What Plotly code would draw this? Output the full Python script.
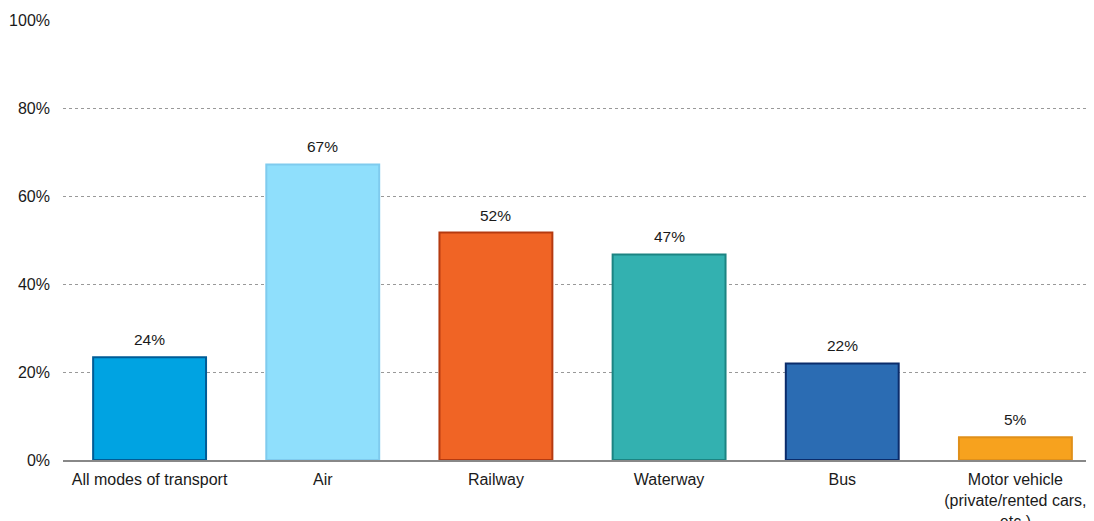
import plotly.graph_objects as go

categories = ["All modes of transport", "Air", "Railway", "Waterway", "Bus",
              "Motor vehicle<br>(private/rented cars,<br>etc.)"]
values = [23.4, 67.3, 51.8, 46.8, 22.0, 5.2]
labels = ["24%", "67%", "52%", "47%", "22%", "5%"]
fill_colors = ["#00A3E2", "#8FDFFC", "#F06425", "#33B1B0", "#2B6CB3", "#F7A21E"]
line_colors = ["#005C96", "#7FCBEE", "#B53A10", "#1C8482", "#0B2C6B", "#E0901A"]
yticks = [0, 20, 40, 60, 80, 100]
yticklabels = ["0%", "20%", "40%", "60%", "80%", "100%"]

fig = go.Figure(go.Bar(
    x=categories, y=values,
    marker=dict(color=fill_colors, line=dict(color=line_colors, width=2)),
    width=0.652, cliponaxis=False,
))
for c, v, t in zip(categories, values, labels):
    fig.add_annotation(x=c, y=v, text=t, showarrow=False, yanchor="bottom",
                       yshift=7, font=dict(family="Liberation Sans, Arial",
                                           size=15.5, color="#1a1a1a"))
fig.update_layout(
    width=1094, height=521,
    margin=dict(l=55, r=0, t=12, b=69, autoexpand=False),
    plot_bgcolor="white", paper_bgcolor="white",
    font=dict(family="Liberation Sans, Arial", size=16, color="#1a1a1a"),
    showlegend=False,
)
fig.update_yaxes(range=[0, 100.2], tickvals=yticks, ticktext=yticklabels,
                 showgrid=True, gridcolor="#999999", griddash="dot", gridwidth=1,
                 zeroline=False, ticks="", ticklabelstandoff=12, automargin=False)
fig.update_xaxes(showline=True, linecolor="#888888", linewidth=1.5, ticks="",
                 tickfont=dict(size=16), ticklabelstandoff=4, automargin=False)
fig.write_html("out.html")
